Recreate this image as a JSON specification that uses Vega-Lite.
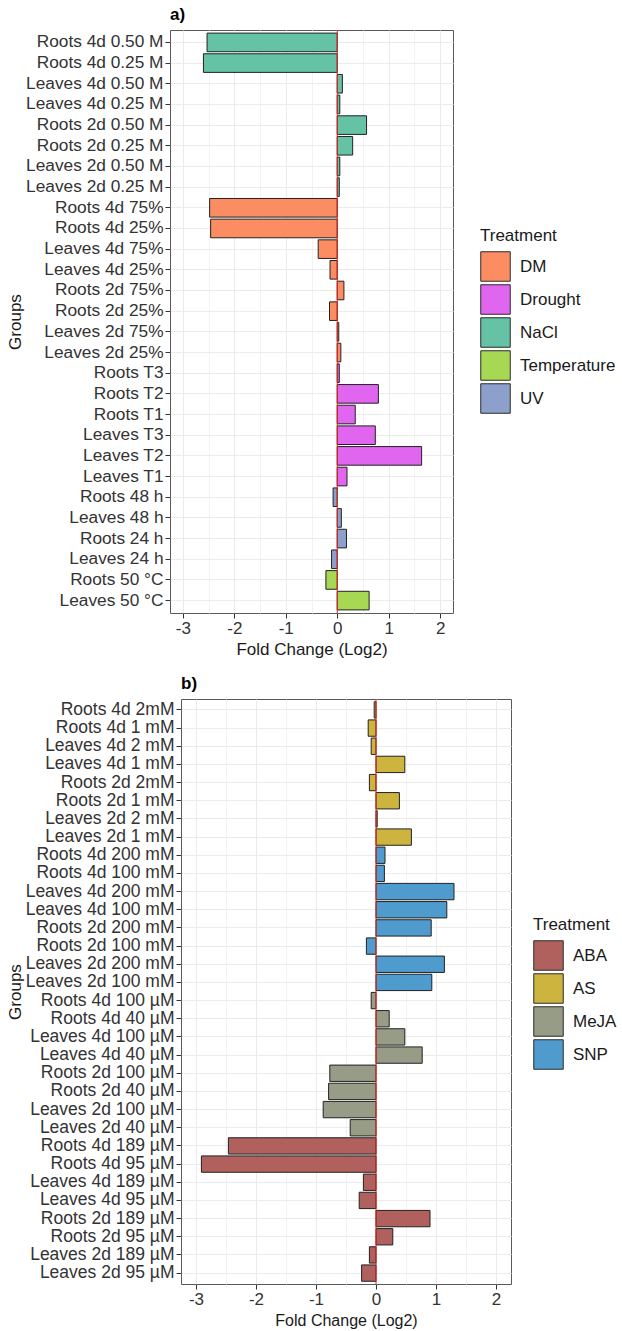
{
  "$schema": "https://vega.github.io/schema/vega-lite/v6.json",
  "padding": {"left": 4, "top": 5, "right": 5, "bottom": 5},
  "background": "white",
  "spacing": 16,
  "config": {
    "font": "Liberation Sans",
    "view": {"stroke": "#595959", "strokeWidth": 1},
    "axis": {
      "labelFont": "Liberation Sans",
      "titleFont": "Liberation Sans",
      "labelFontSize": 17,
      "titleFontSize": 17,
      "titleFontWeight": "normal",
      "labelColor": "#333333",
      "titleColor": "#1a1a1a",
      "tickColor": "#333333",
      "tickSize": 5,
      "domain": false,
      "gridColor": "#EBEBEB",
      "gridWidth": 1
    },
    "legend": {
      "labelFontSize": 17,
      "titleFontSize": 17,
      "titleFontWeight": "normal",
      "labelColor": "#1a1a1a",
      "titleColor": "#1a1a1a",
      "symbolType": "square",
      "symbolSize": 870,
      "symbolStrokeColor": "#2b2b2b",
      "symbolStrokeWidth": 1,
      "symbolOpacity": 1,
      "rowPadding": -10,
      "labelOffset": 9,
      "titlePadding": 6
    },
    "title": {"fontSize": 17, "fontWeight": "bold", "anchor": "start", "frame": "group", "offset": 6, "color": "#000000"}
  },
  "resolve": {"scale": {"color": "independent"}, "legend": {"color": "independent"}},
  "vconcat": [
    {
      "spacing": 0,
      "resolve": {"scale": {"color": "independent"}, "legend": {"color": "independent"}},
      "hconcat": [
        {
          "width": 1,
          "height": 1,
          "view": {"stroke": null},
          "data": {"values": []},
          "mark": {"type": "point", "opacity": 0},
          "encoding": {}
        },
        {
          "title": {"text": "a)"},
          "width": 283,
          "height": 583,
          "data": {"values": [
            {"group": "Roots 4d 0.50 M", "treatment": "NaCl", "fc": -2.53},
            {"group": "Roots 4d 0.25 M", "treatment": "NaCl", "fc": -2.60},
            {"group": "Leaves 4d 0.50 M", "treatment": "NaCl", "fc": 0.10},
            {"group": "Leaves 4d 0.25 M", "treatment": "NaCl", "fc": 0.05},
            {"group": "Roots 2d 0.50 M", "treatment": "NaCl", "fc": 0.57},
            {"group": "Roots 2d 0.25 M", "treatment": "NaCl", "fc": 0.30},
            {"group": "Leaves 2d 0.50 M", "treatment": "NaCl", "fc": 0.05},
            {"group": "Leaves 2d 0.25 M", "treatment": "NaCl", "fc": 0.04},
            {"group": "Roots 4d 75%", "treatment": "DM", "fc": -2.48},
            {"group": "Roots 4d 25%\u00a0", "treatment": "DM", "fc": -2.46},
            {"group": "Leaves 4d 75%", "treatment": "DM", "fc": -0.37},
            {"group": "Leaves 4d 25%", "treatment": "DM", "fc": -0.14},
            {"group": "Roots 2d 75%", "treatment": "DM", "fc": 0.13},
            {"group": "Roots 2d 25%", "treatment": "DM", "fc": -0.15},
            {"group": "Leaves 2d 75%", "treatment": "DM", "fc": 0.03},
            {"group": "Leaves 2d 25%", "treatment": "DM", "fc": 0.07},
            {"group": "Roots T3", "treatment": "Drought", "fc": 0.04},
            {"group": "Roots T2", "treatment": "Drought", "fc": 0.80},
            {"group": "Roots T1", "treatment": "Drought", "fc": 0.35},
            {"group": "Leaves T3", "treatment": "Drought", "fc": 0.74},
            {"group": "Leaves T2", "treatment": "Drought", "fc": 1.64},
            {"group": "Leaves T1", "treatment": "Drought", "fc": 0.19},
            {"group": "Roots 48 h", "treatment": "UV", "fc": -0.08},
            {"group": "Leaves 48 h", "treatment": "UV", "fc": 0.08},
            {"group": "Roots 24 h", "treatment": "UV", "fc": 0.18},
            {"group": "Leaves 24 h", "treatment": "UV", "fc": -0.11},
            {"group": "Roots 50 °C", "treatment": "Temperature", "fc": -0.22},
            {"group": "Leaves 50 °C", "treatment": "Temperature", "fc": 0.62}
          ]},
          "resolve": {"axis": {"x": "independent"}},
          "layer": [
            {
              "mark": {"type": "bar", "stroke": "#222222", "strokeWidth": 1, "opacity": 1},
              "encoding": {
                "y": {"field": "group", "type": "nominal", "sort": null,
                  "scale": {"paddingInner": 0.1, "paddingOuter": 0.15},
                  "axis": {"title": "Groups", "grid": true, "bandPosition": 0.5, "labelPadding": 2, "titlePadding": 2, "labelFontSize": 17.3, "minExtent": 144, "maxExtent": 144}},
                "x": {"field": "fc", "type": "quantitative",
                  "scale": {"domain": [-3.25, 2.25], "nice": false, "zero": false},
                  "axis": {"title": "Fold Change (Log2)", "values": [-3, -2, -1, 0, 1, 2], "grid": true, "labelPadding": 2, "titlePadding": 5,
                    "labelExpr": "datum.value < 0 ? '-' + abs(datum.value) : '' + datum.value"}},
                "x2": {"datum": 0},
                "color": {"field": "treatment", "type": "nominal",
                  "scale": {"domain": ["DM", "Drought", "NaCl", "Temperature", "UV"],
                    "range": ["#FC8D62", "#E066F0", "#66C2A5", "#A6D854", "#8DA0CB"]},
                  "legend": {"title": "Treatment", "orient": "none", "legendX": 310, "legendY": 198, "rowPadding": -10}}
              }
            },
            {
              "data": {"values": [{"line": 0}]},
              "mark": {"type": "rule", "color": "#E8261E", "strokeWidth": 1},
              "encoding": {
                "x": {"field": "line", "type": "quantitative",
                  "scale": {"domain": [-3.25, 2.25], "nice": false, "zero": false},
                  "axis": {"orient": "top", "values": [-2.5, -1.5, -0.5, 0.5, 1.5], "grid": true, "gridColor": "#F2F2F2", "labels": false, "ticks": false, "domain": false, "title": null}}
              }
            }
          ]
        }
      ]
    },
    {
      "spacing": 0,
      "resolve": {"scale": {"color": "independent"}, "legend": {"color": "independent"}},
      "hconcat": [
        {
          "width": 1,
          "height": 1,
          "view": {"stroke": null},
          "data": {"values": []},
          "mark": {"type": "point", "opacity": 0},
          "encoding": {}
        },
        {
          "title": {"text": "b)"},
          "width": 330,
          "height": 585,
          "data": {"values": [
            {"group": "Roots 4d 2mM", "treatment": "AS", "fc": -0.03},
            {"group": "Roots 4d 1 mM", "treatment": "AS", "fc": -0.13},
            {"group": "Leaves 4d 2 mM", "treatment": "AS", "fc": -0.08},
            {"group": "Leaves 4d 1 mM", "treatment": "AS", "fc": 0.48},
            {"group": "Roots 2d 2mM", "treatment": "AS", "fc": -0.11},
            {"group": "Roots 2d 1 mM", "treatment": "AS", "fc": 0.39},
            {"group": "Leaves 2d 2 mM", "treatment": "AS", "fc": 0.02},
            {"group": "Leaves 2d 1 mM", "treatment": "AS", "fc": 0.59},
            {"group": "Roots 4d 200 mM", "treatment": "SNP", "fc": 0.15},
            {"group": "Roots 4d 100 mM", "treatment": "SNP", "fc": 0.14},
            {"group": "Leaves 4d 200 mM", "treatment": "SNP", "fc": 1.30},
            {"group": "Leaves 4d 100 mM", "treatment": "SNP", "fc": 1.18},
            {"group": "Roots 2d 200 mM", "treatment": "SNP", "fc": 0.92},
            {"group": "Roots 2d 100 mM", "treatment": "SNP", "fc": -0.16},
            {"group": "Leaves 2d 200 mM", "treatment": "SNP", "fc": 1.14},
            {"group": "Leaves 2d 100 mM", "treatment": "SNP", "fc": 0.93},
            {"group": "Roots 4d 100 µM\u00a0", "treatment": "MeJA", "fc": -0.08},
            {"group": "Roots 4d 40 µM", "treatment": "MeJA", "fc": 0.22},
            {"group": "Leaves 4d 100 µM", "treatment": "MeJA", "fc": 0.48},
            {"group": "Leaves 4d 40 µM", "treatment": "MeJA", "fc": 0.77},
            {"group": "Roots 2d 100 µM\u00a0", "treatment": "MeJA", "fc": -0.77},
            {"group": "Roots 2d 40 µM", "treatment": "MeJA", "fc": -0.79},
            {"group": "Leaves 2d 100 µM", "treatment": "MeJA", "fc": -0.88},
            {"group": "Leaves 2d 40 µM", "treatment": "MeJA", "fc": -0.43},
            {"group": "Roots 4d 189 µM", "treatment": "ABA", "fc": -2.46},
            {"group": "Roots 4d 95 µM", "treatment": "ABA", "fc": -2.91},
            {"group": "Leaves 4d 189 µM", "treatment": "ABA", "fc": -0.21},
            {"group": "Leaves 4d 95 µM", "treatment": "ABA", "fc": -0.28},
            {"group": "Roots 2d 189 µM", "treatment": "ABA", "fc": 0.90},
            {"group": "Roots 2d 95 µM", "treatment": "ABA", "fc": 0.28},
            {"group": "Leaves 2d 189 µM", "treatment": "ABA", "fc": -0.11},
            {"group": "Leaves 2d 95 µM", "treatment": "ABA", "fc": -0.24}
          ]},
          "resolve": {"axis": {"x": "independent"}},
          "layer": [
            {
              "mark": {"type": "bar", "stroke": "#222222", "strokeWidth": 1, "opacity": 1},
              "encoding": {
                "y": {"field": "group", "type": "nominal", "sort": null,
                  "scale": {"paddingInner": 0.1, "paddingOuter": 0.15},
                  "axis": {"title": "Groups", "grid": true, "bandPosition": 0.5, "labelPadding": 2, "titlePadding": 2, "labelFontSize": 17.5, "minExtent": 155, "maxExtent": 155}},
                "x": {"field": "fc", "type": "quantitative",
                  "scale": {"domain": [-3.25, 2.25], "nice": false, "zero": false},
                  "axis": {"title": "Fold Change (Log2)", "values": [-3, -2, -1, 0, 1, 2], "grid": true, "labelPadding": 2, "titlePadding": 5, "titleFontSize": 16,
                    "labelExpr": "datum.value < 0 ? '-' + abs(datum.value) : '' + datum.value"}},
                "x2": {"datum": 0},
                "color": {"field": "treatment", "type": "nominal",
                  "scale": {"domain": ["ABA", "AS", "MeJA", "SNP"],
                    "range": ["#B0615D", "#CDB43F", "#969C86", "#4F9BCE"]},
                  "legend": {"title": "Treatment", "orient": "none", "legendX": 352, "legendY": 218, "rowPadding": -10}}
              }
            },
            {
              "data": {"values": [{"line": 0}]},
              "mark": {"type": "rule", "color": "#E8261E", "strokeWidth": 1},
              "encoding": {
                "x": {"field": "line", "type": "quantitative",
                  "scale": {"domain": [-3.25, 2.25], "nice": false, "zero": false},
                  "axis": {"orient": "top", "values": [-2.5, -1.5, -0.5, 0.5, 1.5], "grid": true, "gridColor": "#F2F2F2", "labels": false, "ticks": false, "domain": false, "title": null}}
              }
            }
          ]
        }
      ]
    }
  ]
}
